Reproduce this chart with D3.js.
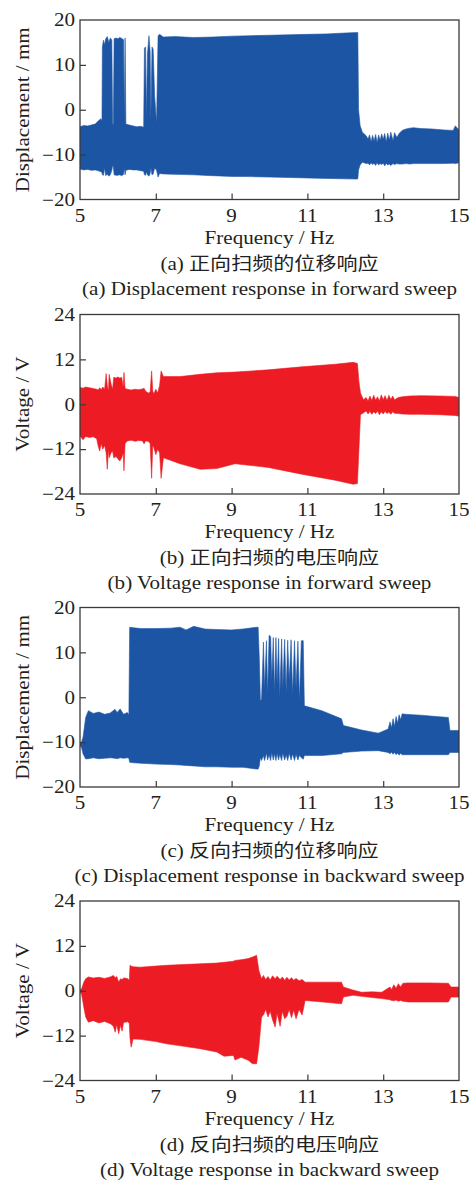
<!DOCTYPE html>
<html><head><meta charset="utf-8">
<script src="https://cdn.jsdelivr.net/npm/d3@7"></script>
<style>
body{margin:0;background:#fff}
svg text{font-family:"Liberation Serif","Times New Roman","Noto Sans CJK SC",serif;fill:#231f20}
</style>
</head><body>
<svg id="chart" width="475" height="1180"></svg>
<script>
// ---------- tick labels ----------
const xTicks = [5, 7, 9, 11, 13, 15];
const dispTicks = [-20, -10, 0, 10, 20];
const voltTicks = [-24, -12, 0, 12, 24];

// ---------- captions ----------
const xTitle = "Frequency / Hz";
const yTitles = ["Displacement / mm", "Voltage / V", "Displacement / mm", "Voltage / V"];
const captionsCN = ["(a) 正向扫频的位移响应", "(b) 正向扫频的电压响应", "(c) 反向扫频的位移响应", "(d) 反向扫频的电压响应"];
const captionsEN = ["(a) Displacement response in forward sweep", "(b) Voltage response in forward sweep",
                    "(c) Displacement response in backward sweep", "(d) Voltage response in backward sweep"];

// ---------- (a) forward sweep displacement envelope (Hz, mm) ----------
const freqA = [5.00,5.10,5.20,5.30,5.40,5.48,5.55,5.58,5.59,5.62,5.65,5.68,5.72,5.76,5.80,5.84,5.86,5.88,5.90,5.95,6.00,6.05,6.10,6.15,6.17,6.19,6.21,6.30,6.40,6.50,6.60,6.68,6.70,6.73,6.75,6.78,6.82,6.85,6.87,6.90,6.93,6.97,7.02,7.06,7.10,7.20,7.50,8.00,8.50,9.00,9.50,10.00,10.50,11.00,11.50,12.00,12.30,12.33,12.35,12.39,12.45,12.55,12.60,12.64,12.68,12.72,12.76,12.80,12.84,12.88,12.92,12.96,13.00,13.04,13.08,13.12,13.16,13.20,13.26,13.30,13.36,13.42,13.50,13.60,13.70,13.80,14.00,14.30,14.60,14.85,14.90,14.95,15.00];
const upperA = [-3.8,-3.5,-3.6,-3.4,-3.2,-2.5,-2.0,-2.5,14.0,15.5,14.5,15.8,16.3,15.0,16.0,15.5,-3.0,-3.5,15.8,16.0,15.8,16.1,15.9,15.6,-3.0,16.0,-3.2,-3.4,-3.6,-3.8,-3.7,-3.9,13.7,14.0,-2.0,12.5,16.5,13.0,-2.0,14.0,13.5,3.0,-3.0,16.5,16.8,16.2,16.3,16.1,16.2,16.4,16.5,16.6,16.7,16.8,16.9,17.1,17.2,17.2,0.0,-3.5,-5.0,-5.8,-6.5,-5.6,-7.2,-5.7,-7.0,-5.5,-7.3,-5.6,-6.8,-5.4,-6.6,-5.3,-7.2,-5.2,-6.8,-5.0,-6.9,-5.1,-6.2,-5.3,-4.6,-4.3,-4.1,-4.0,-4.2,-4.3,-4.5,-4.6,-3.6,-4.0,-4.5];
const lowerA = [-13.2,-13.4,-13.3,-13.5,-13.4,-13.6,-13.8,-14.0,-14.5,-14.6,-13.0,-14.7,-14.3,-14.8,-14.5,-13.5,-12.5,-12.6,-14.5,-14.6,-14.6,-14.5,-14.7,-14.4,-13.0,-14.5,-13.5,-13.3,-13.4,-13.4,-13.6,-13.7,-14.5,-14.6,-13.8,-14.5,-14.8,-14.2,-13.0,-14.5,-14.3,-13.0,-13.5,-15.0,-14.2,-14.3,-14.4,-14.5,-14.7,-14.85,-14.9,-15.0,-15.1,-15.2,-15.3,-15.4,-15.45,-15.4,-13.4,-12.3,-11.7,-12.0,-11.9,-12.3,-11.8,-12.2,-11.9,-12.4,-11.8,-12.3,-12.0,-12.2,-11.9,-12.5,-11.9,-12.3,-12.1,-12.4,-12.0,-12.2,-12.0,-12.1,-12.1,-12.0,-12.1,-12.0,-12.0,-12.0,-12.0,-11.9,-12.0,-11.9,-11.8];

// ---------- (b) forward sweep voltage envelope (Hz, V) ----------
const freqB = [5.00,5.08,5.15,5.25,5.35,5.44,5.48,5.52,5.56,5.60,5.65,5.69,5.72,5.75,5.77,5.82,5.86,5.89,5.95,6.00,6.05,6.10,6.14,6.16,6.19,6.25,6.35,6.45,6.55,6.65,6.69,6.73,6.80,6.85,6.89,6.92,6.95,7.00,7.05,7.10,7.14,7.20,7.64,8.17,8.61,9.09,9.97,10.85,11.73,12.21,12.32,12.36,12.40,12.48,12.55,12.60,12.65,12.70,12.75,12.80,12.85,12.90,12.95,13.00,13.05,13.10,13.15,13.20,13.25,13.30,13.40,13.50,13.70,14.00,14.50,14.90,15.00];
const upperB = [4.5,4.3,4.6,4.4,4.2,4.0,3.8,4.4,3.9,4.6,4.0,8.2,5.0,3.5,8.0,5.4,4.0,7.2,7.0,7.3,7.0,7.2,4.5,8.5,4.2,4.0,3.8,4.0,3.9,4.1,4.3,3.5,3.0,3.2,8.9,3.5,2.8,4.0,3.0,5.0,8.9,7.4,7.4,8.0,8.4,8.6,9.2,10.0,10.7,11.2,10.9,6.0,3.0,1.2,1.8,0.9,2.2,1.0,2.4,1.1,2.0,0.9,2.5,1.2,2.3,1.0,2.4,1.3,2.2,1.2,1.8,2.0,2.2,2.3,2.2,2.1,1.8];
const lowerB = [-8.5,-9.5,-8.6,-8.9,-8.7,-9.2,-11.2,-12.5,-10.5,-12.0,-11.0,-13.0,-17.4,-12.0,-14.3,-13.0,-12.5,-14.3,-14.0,-14.6,-15.2,-14.3,-13.0,-17.8,-10.5,-9.8,-9.6,-9.9,-9.7,-9.8,-10.6,-9.8,-9.9,-10.5,-19.8,-11.0,-11.6,-13.5,-12.0,-13.0,-19.8,-14.3,-15.9,-17.4,-17.2,-15.9,-16.9,-18.7,-20.3,-21.4,-21.2,-12.0,-2.8,-2.3,-1.8,-2.6,-1.9,-2.7,-2.0,-2.5,-1.8,-2.8,-2.0,-2.6,-1.9,-2.5,-2.1,-2.7,-2.0,-2.4,-2.5,-2.6,-2.7,-2.7,-2.8,-3.0,-3.2];

// ---------- (c) backward sweep displacement envelope (Hz, mm) ----------
const freqC = [5.00,5.04,5.08,5.15,5.22,5.35,5.50,5.65,5.80,5.92,5.98,6.06,6.15,6.25,6.29,6.31,6.41,6.60,7.00,7.40,7.64,7.80,8.00,8.30,8.60,9.00,9.30,9.66,9.70,9.73,9.76,9.79,9.84,9.87,9.92,9.95,9.99,10.03,10.06,10.10,10.13,10.17,10.20,10.24,10.27,10.32,10.35,10.40,10.44,10.48,10.52,10.57,10.61,10.66,10.70,10.75,10.79,10.84,10.89,10.92,11.38,11.90,11.95,12.43,12.87,13.13,13.18,13.22,13.26,13.30,13.34,13.38,13.42,13.46,13.50,13.58,14.00,14.40,14.72,14.76,15.00];
const upperC = [-10.3,-10.0,-8.9,-4.5,-3.0,-3.6,-3.3,-3.8,-3.5,-2.7,-3.4,-2.6,-3.8,-3.4,-3.9,15.6,15.5,15.3,15.3,15.4,15.6,15.0,15.8,15.2,15.1,15.0,15.2,15.6,15.6,8.9,-0.7,-0.5,12.3,2.0,12.6,0.5,13.8,13.5,4.0,13.3,1.0,13.3,3.0,13.1,0.0,13.0,2.0,12.9,1.0,12.7,3.5,12.8,0.5,12.6,2.0,12.5,-1.0,12.6,12.6,-1.9,-3.0,-4.8,-6.3,-7.3,-8.0,-7.1,-5.5,-6.8,-4.8,-6.5,-4.3,-5.8,-3.9,-5.0,-3.7,-3.8,-4.0,-4.3,-4.5,-7.4,-7.4];
const lowerC = [-10.8,-11.2,-12.6,-13.75,-13.7,-13.5,-13.7,-13.6,-13.5,-13.6,-13.7,-13.5,-13.6,-13.5,-13.6,-14.5,-14.6,-14.7,-14.9,-15.0,-15.1,-15.2,-15.3,-15.5,-15.5,-15.6,-15.6,-16.0,-16.0,-15.3,-13.4,-14.1,-13.0,-14.1,-12.4,-14.0,-12.8,-14.1,-12.3,-14.0,-12.6,-14.1,-12.5,-14.0,-12.7,-14.1,-12.4,-14.0,-12.8,-14.1,-12.5,-14.0,-12.6,-14.1,-12.7,-14.0,-12.9,-13.5,-13.8,-13.0,-13.0,-12.6,-12.3,-12.0,-11.9,-12.3,-12.6,-12.2,-12.7,-12.3,-12.8,-12.4,-12.9,-12.5,-12.8,-12.8,-12.8,-12.8,-12.8,-12.3,-12.3];

// ---------- (d) backward sweep voltage envelope (Hz, V) ----------
const freqD = [5.00,5.04,5.10,5.15,5.22,5.35,5.50,5.65,5.80,5.88,5.93,5.97,6.02,6.07,6.11,6.15,6.25,6.30,6.32,6.35,6.40,6.59,7.00,7.29,7.70,8.17,8.61,8.80,9.05,9.09,9.25,9.44,9.55,9.66,9.72,9.79,9.84,9.90,9.96,10.02,10.08,10.15,10.20,10.28,10.34,10.40,10.46,10.52,10.58,10.64,10.70,10.78,10.86,10.94,11.40,11.90,11.95,12.20,12.43,12.70,12.96,13.18,13.22,13.28,13.34,13.40,13.46,13.52,13.66,14.20,14.72,14.79,15.00];
const upperD = [0.3,0.5,2.3,3.2,3.7,3.4,3.6,3.3,3.7,4.1,3.5,3.8,2.3,3.2,3.0,3.4,3.3,2.8,6.8,6.6,6.4,6.3,6.6,6.8,7.0,7.2,7.4,7.6,7.9,8.1,8.3,8.6,9.0,9.5,5.4,3.2,4.1,3.0,3.8,2.9,4.0,3.2,3.9,3.0,3.7,2.8,3.6,2.9,3.5,2.8,3.3,2.7,3.0,2.3,2.3,2.3,1.0,0.2,-0.4,-0.3,-0.4,1.0,0.3,1.6,0.7,1.9,1.0,2.0,2.1,2.1,2.0,1.0,1.0];
const lowerD = [-0.5,-0.8,-4.4,-7.0,-8.4,-8.0,-8.6,-8.2,-8.8,-9.5,-11.1,-9.0,-11.5,-9.2,-10.8,-8.5,-8.3,-8.6,-12.8,-15.1,-12.9,-13.0,-13.6,-14.2,-14.8,-15.5,-16.4,-17.5,-17.3,-18.5,-17.8,-18.6,-19.5,-19.5,-15.0,-7.0,-6.5,-5.0,-7.0,-5.5,-7.8,-9.7,-6.0,-9.5,-5.5,-7.5,-6.8,-5.0,-7.2,-5.2,-7.5,-5.0,-6.5,-2.6,-3.0,-3.5,-1.7,-1.2,-1.5,-1.8,-2.1,-2.4,-2.6,-2.7,-2.5,-2.8,-2.6,-2.8,-3.0,-3.0,-3.0,-1.7,-1.7];

// ---------- build ----------
const series = [
  {f: freqA, hi: upperA, lo: lowerA, ticks: dispTicks, color: "#1d55a5"},
  {f: freqB, hi: upperB, lo: lowerB, ticks: voltTicks, color: "#ed1c24"},
  {f: freqC, hi: upperC, lo: lowerC, ticks: dispTicks, color: "#1d55a5"},
  {f: freqD, hi: upperD, lo: lowerD, ticks: voltTicks, color: "#ed1c24"}
];

const svg = d3.select("#chart");
const left = 80, right = 459, plotH = 179.5;
const tops = [20, 314.5, 607.5, 901];
const FS = 18, STRETCH = 1.17;
const ink = "#3a3a3a";

function stretch(sel) {
  sel.each(function () {
    const L = this.getComputedTextLength();
    d3.select(this).attr("textLength", (L * STRETCH).toFixed(1)).attr("lengthAdjust", "spacingAndGlyphs");
  });
}

const x = d3.scaleLinear().domain([5, 15]).range([left, right]);

series.forEach((s, i) => {
  const top = tops[i], bottom = top + plotH;
  const ext = d3.max(s.ticks);
  const y = d3.scaleLinear().domain([-ext, ext]).range([bottom, top]);
  const g = svg.append("g");

  const clipId = "clip" + i;
  g.append("clipPath").attr("id", clipId).append("rect")
    .attr("x", left).attr("y", top).attr("width", right - left).attr("height", plotH);

  const data = s.f.map((f, k) => ({f: f, hi: s.hi[k], lo: s.lo[k]}));
  const area = d3.area().x(d => x(d.f)).y0(d => y(d.lo)).y1(d => y(d.hi));
  g.append("path").datum(data).attr("d", area)
    .attr("fill", s.color).attr("stroke", s.color).attr("stroke-width", 0.6)
    .attr("clip-path", `url(#${clipId})`);

  // ticks (inward)
  const xAxis = d3.axisTop(x).tickValues(xTicks.slice(1, -1)).tickSize(6).tickFormat("");
  const gx = g.append("g").attr("transform", `translate(0,${bottom})`).call(xAxis);
  gx.select(".domain").remove();
  gx.selectAll("line").attr("stroke", ink).attr("stroke-width", 1.2);

  const yAxis = d3.axisRight(y).tickValues(s.ticks.slice(1, -1)).tickSize(6).tickFormat("");
  const gy = g.append("g").attr("transform", `translate(${left},0)`).call(yAxis);
  gy.select(".domain").remove();
  gy.selectAll("line").attr("stroke", ink).attr("stroke-width", 1.2);

  // frame
  g.append("rect").attr("x", left).attr("y", top).attr("width", right - left).attr("height", plotH)
    .attr("fill", "none").attr("stroke", ink).attr("stroke-width", 1.3);

  // tick labels
  g.selectAll(".xl").data(xTicks).enter().append("text")
    .attr("x", d => x(d)).attr("y", bottom + 22).attr("text-anchor", "middle")
    .attr("font-size", FS).text(d => d).call(stretch);
  g.selectAll(".yl").data(s.ticks).enter().append("text")
    .attr("x", 75).attr("y", d => y(d)).attr("dy", "0.35em").attr("text-anchor", "end")
    .attr("font-size", FS).text(d => d < 0 ? "\u2212" + Math.abs(d) : d).call(stretch);

  // titles
  g.append("text").attr("x", (left + right) / 2).attr("y", bottom + 44).attr("text-anchor", "middle")
    .attr("font-size", FS).text(xTitle).call(stretch);
  g.append("text").attr("transform", `translate(29,${(top + bottom) / 2}) rotate(-90)`)
    .attr("text-anchor", "middle").attr("font-size", FS).text(yTitles[i]).call(stretch);

  // captions
  g.append("text").attr("x", (left + right) / 2).attr("y", bottom + 70).attr("text-anchor", "middle")
    .attr("font-size", FS).text(captionsCN[i]).call(stretch);
  g.append("text").attr("x", (left + right) / 2).attr("y", bottom + 95).attr("text-anchor", "middle")
    .attr("font-size", FS).text(captionsEN[i]).call(stretch);
});
</script>
</body></html>
